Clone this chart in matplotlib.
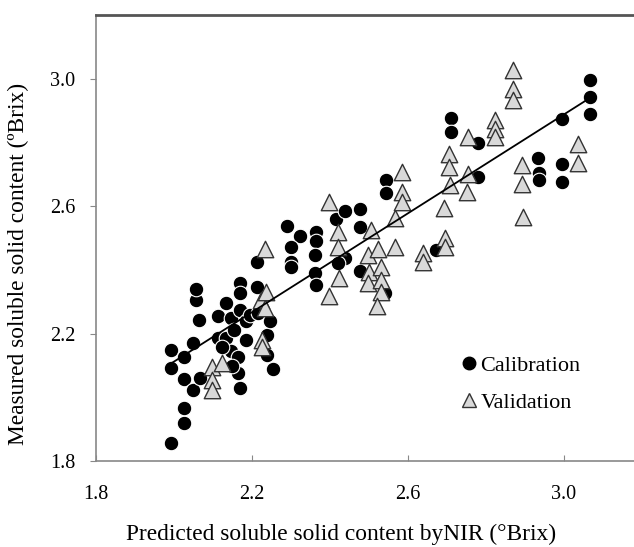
import matplotlib
matplotlib.use("Agg")
import matplotlib.pyplot as plt
from matplotlib.lines import Line2D

plt.rcParams['font.family'] = ['Liberation Serif', 'DejaVu Serif']

# Calibration set (predicted, measured)
cal_x = [1.992, 2.026, 2.026, 1.992, 1.992, 2.026, 2.026, 2.049, 2.049, 2.065,
         2.057, 2.057, 2.066, 2.112, 2.112, 2.134, 2.134, 2.145, 2.147, 2.163,
         2.169, 2.169, 2.169, 2.169, 2.163, 2.185, 2.185, 2.196, 2.212, 2.214,
         2.216, 2.238, 2.238, 2.247, 2.254, 2.155, 2.123, 2.149,
         2.289, 2.323, 2.301, 2.301, 2.301, 2.363, 2.363, 2.361, 2.361, 2.363,
         2.416, 2.439, 2.477, 2.477, 2.439, 2.421, 2.477, 2.544, 2.544, 2.673,
         2.710, 2.710, 2.779, 2.779, 2.933, 2.937, 2.937, 2.994, 2.994, 2.994,
         3.067, 3.067, 3.067, 2.541]
cal_y = [1.858, 1.919, 1.966, 2.149, 2.091, 2.126, 2.057, 2.024, 2.170, 2.243,
         2.305, 2.339, 2.060, 2.255, 2.187, 2.295, 2.187, 2.248, 2.144, 2.128,
         2.358, 2.327, 2.274, 2.030, 2.076, 2.238, 2.180, 2.258, 2.426, 2.346,
         2.264, 2.196, 2.134, 2.238, 2.088, 2.211, 2.159, 2.097,
         2.538, 2.506, 2.473, 2.426, 2.410, 2.520, 2.491, 2.446, 2.391, 2.352,
         2.561, 2.585, 2.590, 2.535, 2.437, 2.420, 2.397, 2.681, 2.642, 2.462,
         2.878, 2.833, 2.798, 2.692, 2.751, 2.704, 2.681, 2.872, 2.732, 2.676,
         2.995, 2.943, 2.890, 2.326]

# Validation set (predicted, measured)
val_x = [2.097, 2.097, 2.097, 2.123, 2.225, 2.225, 2.223, 2.234, 2.236, 2.234,
         2.398, 2.398, 2.421, 2.421, 2.424, 2.506, 2.497, 2.501, 2.497, 2.523,
         2.532, 2.532, 2.532, 2.521, 2.566, 2.566, 2.584, 2.584, 2.584, 2.639,
         2.639, 2.694, 2.694, 2.692, 2.706, 2.706, 2.708, 2.753, 2.753, 2.751,
         2.822, 2.822, 2.822, 2.869, 2.869, 2.869, 2.893, 2.893, 2.896, 3.036,
         3.036]
val_y = [2.095, 2.054, 2.023, 2.108, 2.180, 2.159, 2.304, 2.279, 2.331, 2.467,
         2.614, 2.319, 2.520, 2.473, 2.373, 2.525, 2.446, 2.394, 2.358, 2.467,
         2.410, 2.368, 2.332, 2.287, 2.563, 2.473, 2.708, 2.645, 2.614, 2.452,
         2.426, 2.499, 2.473, 2.593, 2.765, 2.723, 2.666, 2.817, 2.702, 2.645,
         2.869, 2.843, 2.817, 3.026, 2.969, 2.932, 2.729, 2.671, 2.567, 2.796,
         2.734]

# Regression line
fit_x = [1.992, 3.058]
fit_slope = 0.776
fit_intercept = 0.560

xticks = [1.8, 2.2, 2.6, 3.0]
yticks = [1.8, 2.2, 2.6, 3.0]

fig = plt.figure(figsize=(6.34, 5.47), dpi=100)
ax = fig.add_axes([96/634, 1 - 461/547, 1 - 96/634, (461 - 15)/547])

ax.scatter(cal_x, cal_y, s=110, c='black', edgecolors='white', linewidths=0.8,
           zorder=3)
ax.scatter(val_x, val_y, s=140, marker='^', c='#d9d9d9', edgecolors='#333333',
           linewidths=1.0, zorder=4)
fit_y = [fit_slope * v + fit_intercept for v in fit_x]
ax.plot(fit_x, fit_y, color='black', lw=1.3, zorder=5)

ax.set_xlim(1.8, 1.8 + 538/390)
ax.set_ylim(1.8, 3.2)
ax.set_xticks(xticks)
ax.set_yticks(yticks)
ax.set_xticklabels([f"{t:.1f}" for t in xticks])
ax.set_yticklabels([f"{t:.1f}" for t in yticks])
ax.tick_params(axis='x', direction='in', length=4, pad=17, labelsize=14.5,
               color='#888888')
ax.tick_params(axis='y', direction='out', length=4, pad=11, labelsize=14.5,
               color='#888888')

ax.spines['right'].set_visible(False)
ax.spines['top'].set_color('#555555')
ax.spines['top'].set_linewidth(2.0)
ax.spines['left'].set_color('#888888')
ax.spines['bottom'].set_color('#888888')
ax.spines['left'].set_linewidth(1.2)
ax.spines['bottom'].set_linewidth(1.2)

ax.set_xlabel("Predicted soluble solid content byNIR (\u00b0Brix)", fontsize=16.8)
ax.set_ylabel("Measured soluble solid content (\u00baBrix)", fontsize=16.8)
ax.xaxis.set_label_coords((341 - 96)/538, -(524 - 461)/446)
ax.yaxis.set_label_coords(-(96 - 29)/538, (461 - 264)/446)

handles = [Line2D([], [], marker='o', ls='', color='black', markersize=9),
           Line2D([], [], marker='^', ls='', markerfacecolor='#d9d9d9',
                  markeredgecolor='#333333', markersize=10)]
ax.legend(handles, ['Calibration', 'Validation'], loc='upper left',
          bbox_to_anchor=(0.657, 0.257), frameon=False, fontsize=16,
          handletextpad=0.0, handlelength=1.0, labelspacing=0.75,
          borderaxespad=0)

fig.savefig("out.png", dpi=100)
